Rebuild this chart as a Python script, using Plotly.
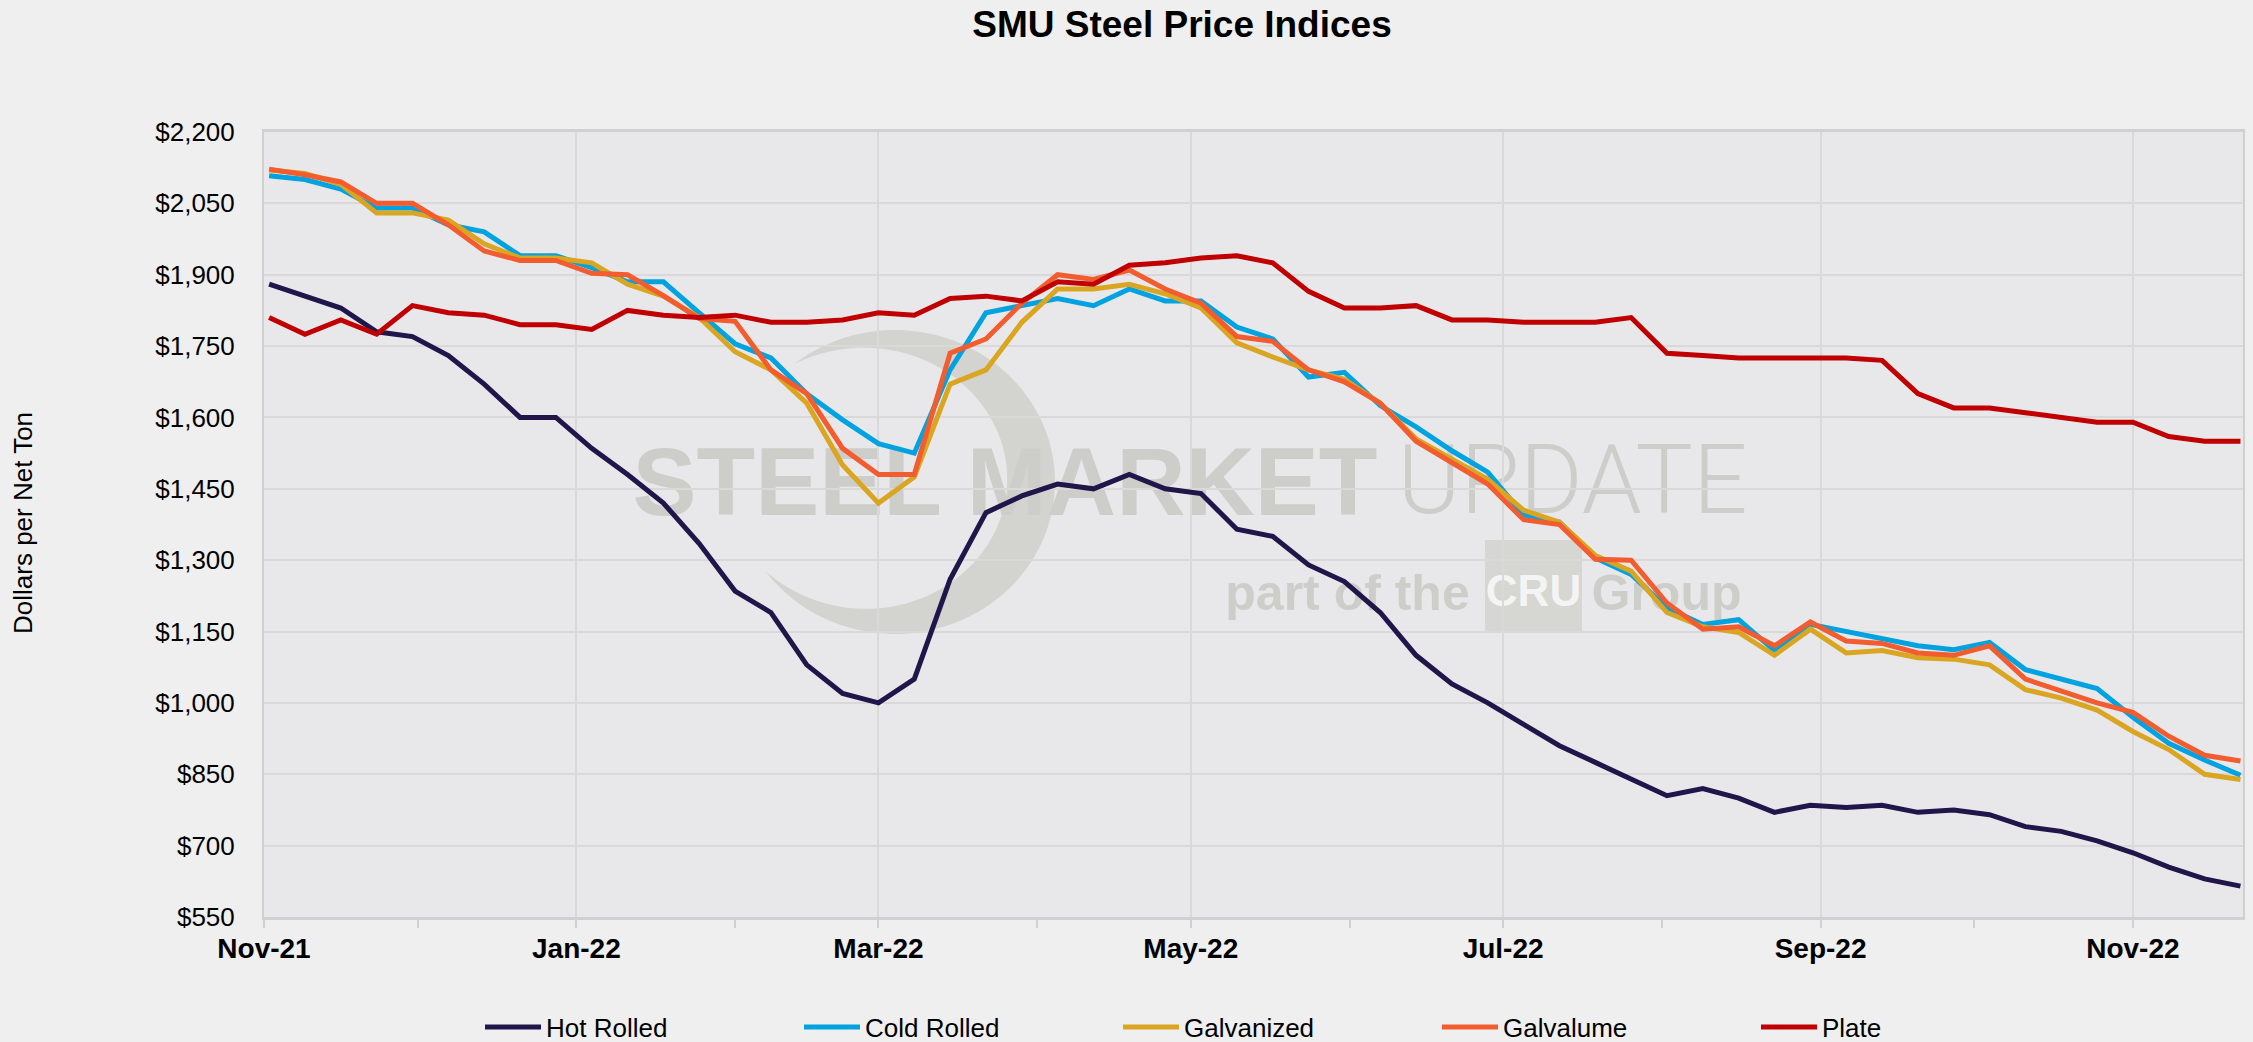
import math
import datetime as dt
import plotly.graph_objects as go

# ---------------- data ----------------
start = dt.date(2021, 11, 2)
dates = [start + dt.timedelta(days=7 * i) for i in range(56)]

hot_rolled = [1880, 1855, 1830, 1780, 1770, 1730, 1670, 1600, 1600, 1535,
              1480, 1420, 1335, 1235, 1190, 1080, 1020, 1000, 1050, 1260,
              1400, 1435, 1460, 1450, 1480, 1450, 1440, 1365, 1350, 1290,
              1255, 1190, 1100, 1040, 1000, 955, 910, 875, 840, 805,
              820, 800, 770, 785, 780, 785, 770, 775, 765, 740,
              730, 710, 685, 655, 630, 615]

cold_rolled = [2108, 2100, 2080, 2040, 2040, 2005, 1990, 1940, 1940, 1915,
               1885, 1885, 1820, 1755, 1725, 1650, 1595, 1545, 1525, 1700,
               1820, 1835, 1850, 1835, 1870, 1845, 1845, 1790, 1765, 1685,
               1695, 1625, 1580, 1530, 1485, 1395, 1380, 1305, 1270, 1200,
               1165, 1175, 1110, 1165, 1150, 1135, 1120, 1112, 1127, 1070,
               1050, 1030, 970, 915, 880, 848]

galvanized = [2120, 2113, 2090, 2030, 2030, 2015, 1965, 1935, 1935, 1925,
              1880, 1855, 1810, 1738, 1700, 1630, 1500, 1420, 1475, 1670,
              1700, 1800, 1870, 1870, 1880, 1860, 1830, 1757, 1727, 1700,
              1680, 1630, 1555, 1513, 1470, 1405, 1380, 1310, 1277, 1190,
              1160, 1148, 1100, 1155, 1105, 1110, 1095, 1092, 1080, 1028,
              1010, 985, 940, 902, 850, 839]

galvalume = [2122, 2110, 2095, 2050, 2050, 2005, 1950, 1930, 1930, 1903,
             1900, 1856, 1808, 1802, 1700, 1650, 1535, 1480, 1480, 1735,
             1765, 1840, 1900, 1890, 1910, 1870, 1840, 1770, 1760, 1700,
             1675, 1630, 1550, 1505, 1460, 1385, 1375, 1302, 1300, 1210,
             1155, 1160, 1120, 1170, 1130, 1125, 1105, 1100, 1120, 1050,
             1025, 1000, 980, 930, 890, 878]

plate = [1810, 1775, 1805, 1775, 1835, 1820, 1815, 1795, 1795, 1785,
         1825, 1815, 1810, 1815, 1800, 1800, 1805, 1820, 1815, 1850,
         1855, 1845, 1885, 1880, 1920, 1925, 1935, 1940, 1925, 1865,
         1830, 1830, 1835, 1805, 1805, 1800, 1800, 1800, 1810, 1735,
         1730, 1725, 1725, 1725, 1725, 1720, 1650, 1620, 1620, 1610,
         1600, 1590, 1590, 1560, 1550, 1550]

series_names = ["Hot Rolled", "Cold Rolled", "Galvanized", "Galvalume", "Plate"]
series_values = [hot_rolled, cold_rolled, galvanized, galvalume, plate]
series_colors = ["#20164A", "#00A2E0", "#DAA520", "#F25C2E", "#C00000"]

y_ticks = list(range(550, 2201, 150))
y_ticktext = [f"${v:,}" for v in y_ticks]

# ---------------- layout geometry (pixels) ----------------
W, H = 2253, 1042
L, R, T, B = 264, 2243, 132, 917
FONT = "Arial, 'Liberation Sans', sans-serif"


def px(xp):
    return (xp - L) / (R - L)


def py(yp):
    return (B - yp) / (B - T)


fig = go.Figure()
for name, vals, col in zip(series_names, series_values, series_colors):
    fig.add_trace(go.Scatter(x=dates, y=vals, name=name, mode="lines",
                             line=dict(color=col, width=5)))

# ---------------- watermark ----------------
wm = "#CDCDC9"
shapes = []
# swoosh (crescent)
cx, cy, rx, ry = 895, 482, 160, 152
a0, a1 = math.radians(129), math.radians(-144)
n = 80
outer, inner = [], []
for k in range(n + 1):
    t = k / n
    a = a0 + (a1 - a0) * t
    w = 48 * math.sin(math.pi * t)
    outer.append((cx + rx * math.cos(a), cy - ry * math.sin(a)))
    inner.append((cx + (rx - w) * math.cos(a), cy - (ry - w) * math.sin(a)))
pts = outer + inner[::-1]
path = "M " + " L ".join(f"{px(x):.5f},{py(y):.5f}" for x, y in pts) + " Z"
shapes.append(dict(type="path", path=path, xref="paper", yref="paper",
                   fillcolor="#D3D3CF", line=dict(width=0), layer="between"))


def label_box(x0, x1, y0, y1, text, size, color, family=FONT, weight="normal",
              fill="rgba(0,0,0,0)"):
    return dict(type="rect", xref="paper", yref="paper",
                x0=px(x0), x1=px(x1), y0=py(y1), y1=py(y0),
                fillcolor=fill, line=dict(width=0), layer="between",
                label=dict(text=text, textposition="middle center",
                           font=dict(size=size, color=color, family=family,
                                     weight=weight)))


shapes.append(label_box(620, 1390, 430, 515, "STEEL MARKET", 96, wm, weight="bold"))
shapes.append(label_box(1395, 1750, 430, 515, "UPDATE", 96, wm,
                        family="Roboto, 'DejaVu Sans', sans-serif", weight=300))
shapes.append(label_box(1215, 1480, 560, 615, "part of the", 50, wm, weight="bold"))
shapes.append(dict(type="rect", xref="paper", yref="paper",
                   x0=px(1485), x1=px(1582), y0=py(632), y1=py(540),
                   fillcolor="#D6D6D3", line=dict(width=0), layer="between"))
shapes.append(label_box(1485, 1582, 545, 628, "CRU", 44, "#F4F4F4",
                        family="'Liberation Sans Narrow', 'Arial Narrow', Arial, sans-serif",
                        weight="bold"))
shapes.append(label_box(1588, 1745, 560, 615, "Group", 50, wm, weight="bold"))

fig.update_layout(
    width=W, height=H,
    paper_bgcolor="#EFEFEF", plot_bgcolor="#E8E8EA",
    margin=dict(l=L, r=W - R, t=T, b=H - B, autoexpand=False),
    font=dict(family=FONT, color="#000000", size=26),
    title=dict(text="<b>SMU Steel Price Indices</b>", x=1182 / W, xanchor="center",
               xref="container", yref="container", y=1 - 24 / H, yanchor="middle",
               font=dict(size=37, color="#000000", family=FONT)),
    showlegend=True,
    legend=dict(orientation="h", xref="container", yref="container",
                x=480 / W, xanchor="left", y=1 - 1027 / H, yanchor="middle",
                font=dict(size=26, color="#000000", family=FONT),
                bgcolor="rgba(0,0,0,0)", entrywidthmode="pixels", entrywidth=248,
                itemwidth=56, traceorder="normal"),
    shapes=shapes,
    annotations=[dict(text="Dollars per Net Ton", textangle=-90, xref="paper", yref="paper",
                      x=px(23), y=py(523), xanchor="center", yanchor="middle",
                      showarrow=False, font=dict(size=26, color="#000000", family=FONT))],
)

fig.update_xaxes(
    type="date", range=["2021-11-01", "2022-11-22 12:00"],
    tick0="2021-11-01", dtick="M2", tickformat="%b-%y",
    ticks="outside", ticklen=8, tickcolor="#D0D0D0", tickwidth=2,
    showgrid=True, gridcolor="#D9D9D9", gridwidth=2,
    showline=True, linecolor="#D0D0D0", linewidth=3, mirror=True,
    tickfont=dict(size=28, family=FONT, color="#000000", weight="bold"),
    ticklabelstandoff=-4,
    minor=dict(dtick="M1", tick0="2021-11-01", ticks="outside", ticklen=8,
               tickcolor="#D0D0D0", tickwidth=2, showgrid=False),
    zeroline=False,
)
fig.update_yaxes(
    range=[550, 2200], tickvals=y_ticks, ticktext=y_ticktext,
    showgrid=True, gridcolor="#D9D9D9", gridwidth=2,
    showline=True, linecolor="#D0D0D0", linewidth=2, mirror=True,
    ticks="", ticklabelstandoff=22,
    tickfont=dict(size=26, family=FONT, color="#000000"),
    zeroline=False,
)

fig.write_html("out.html", config={"displayModeBar": False},
               post_script="document.body.style.margin='0';document.body.style.overflow='hidden';")
